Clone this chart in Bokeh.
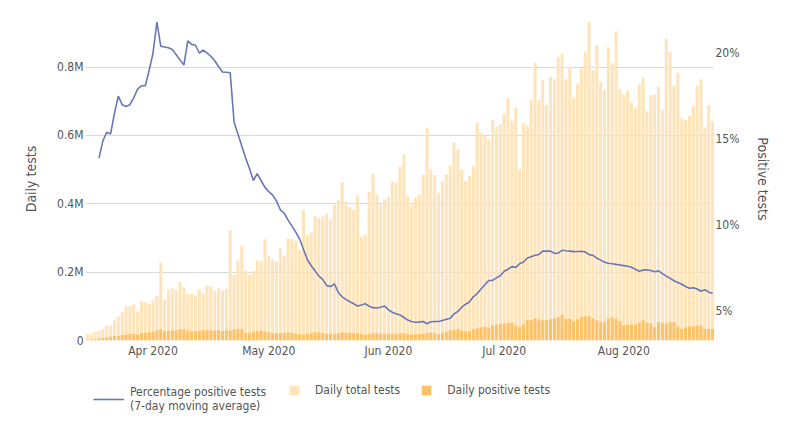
import pandas as pd
from bokeh.plotting import figure
from bokeh.layouts import column
from bokeh.models import (Range1d, LinearAxis, FixedTicker, DatetimeTickFormatter,
                          Legend, LegendItem, ColumnDataSource)
from bokeh.embed import file_html
from bokeh.resources import INLINE

# ---------------- data ----------------
start_date = "2020-03-15"

# daily total tests, millions
total_tests_m = [
    0.018, 0.018, 0.024, 0.028, 0.034, 0.044, 0.044, 0.059, 0.070, 0.083,
    0.100, 0.100, 0.105, 0.085, 0.115, 0.112, 0.107, 0.117, 0.132, 0.228,
    0.119, 0.149, 0.153, 0.147, 0.171, 0.156, 0.137, 0.137, 0.132, 0.149,
    0.137, 0.161, 0.159, 0.145, 0.153, 0.147, 0.151,
    0.322, 0.192, 0.234, 0.278, 0.205, 0.193, 0.203, 0.235, 0.232, 0.296,
    0.247, 0.237, 0.232, 0.269, 0.247, 0.298, 0.296, 0.292, 0.264, 0.381,
    0.308, 0.317, 0.364, 0.359, 0.363, 0.371, 0.355, 0.398, 0.410,
    0.462, 0.407, 0.391, 0.383, 0.425, 0.303, 0.310, 0.435, 0.488, 0.427,
    0.398, 0.413, 0.419, 0.467, 0.462, 0.508, 0.544, 0.422, 0.396, 0.418,
    0.428, 0.484, 0.623, 0.501, 0.484, 0.432, 0.467, 0.486, 0.511, 0.579, 0.560,
    0.500, 0.467, 0.481, 0.510, 0.638, 0.608, 0.599, 0.588, 0.645, 0.625,
    0.633, 0.664, 0.710, 0.642, 0.682, 0.501, 0.634, 0.628, 0.703, 0.813,
    0.703, 0.762, 0.689, 0.772, 0.764, 0.830, 0.838, 0.764, 0.801, 0.710,
    0.752, 0.796, 0.845, 0.931,
    0.791, 0.864, 0.757, 0.733, 0.858, 0.811, 0.904, 0.735, 0.720, 0.731,
    0.697, 0.682, 0.749, 0.769, 0.671, 0.718, 0.720, 0.742, 0.674, 0.882,
    0.845, 0.747, 0.783, 0.650, 0.645, 0.657, 0.687, 0.744, 0.764, 0.623,
    0.689, 0.642,
]

# daily positive tests, millions
positive_tests_m = [
    0.002, 0.003, 0.004, 0.005, 0.007, 0.009, 0.011, 0.013, 0.014, 0.016,
    0.018, 0.019, 0.019, 0.017, 0.021, 0.022, 0.024, 0.026, 0.029, 0.033,
    0.027, 0.028, 0.030, 0.029, 0.034, 0.033, 0.029, 0.027, 0.026, 0.028,
    0.030, 0.031, 0.030, 0.029, 0.030, 0.028, 0.029,
    0.029, 0.032, 0.034, 0.034, 0.022, 0.021, 0.024, 0.026, 0.029, 0.026,
    0.024, 0.021, 0.021, 0.022, 0.022, 0.024, 0.022, 0.020, 0.018, 0.017,
    0.020, 0.021, 0.024, 0.024, 0.021, 0.020, 0.020, 0.020, 0.021,
    0.024, 0.023, 0.022, 0.021, 0.020, 0.019, 0.017, 0.018, 0.021, 0.021,
    0.020, 0.019, 0.020, 0.020, 0.019, 0.021, 0.022, 0.018, 0.017, 0.018,
    0.019, 0.020, 0.022, 0.023, 0.021, 0.018, 0.022, 0.025, 0.030, 0.031, 0.033,
    0.029, 0.027, 0.026, 0.034, 0.036, 0.039, 0.040, 0.037, 0.044, 0.046,
    0.049, 0.049, 0.052, 0.052, 0.043, 0.039, 0.046, 0.059, 0.059, 0.064,
    0.062, 0.059, 0.059, 0.062, 0.064, 0.068, 0.075, 0.062, 0.064, 0.056,
    0.062, 0.068, 0.071, 0.071,
    0.064, 0.059, 0.054, 0.054, 0.064, 0.068, 0.064, 0.056, 0.044, 0.047,
    0.047, 0.047, 0.052, 0.059, 0.052, 0.049, 0.039, 0.054, 0.052, 0.049,
    0.054, 0.054, 0.041, 0.034, 0.039, 0.042, 0.041, 0.044, 0.044, 0.034,
    0.034, 0.034,
]

# percentage positive, 7-day moving average (starts 3 days after first bar)
pct_start_offset = 3
pct_positive_7d = [
    13.9, 14.9, 15.4, 15.3, 16.5, 17.5, 17.0, 16.9, 17.0, 17.4,
    17.9, 18.1, 18.1, 19.0, 20.0, 21.8, 20.4, 20.35, 20.3, 20.2,
    19.9, 19.6, 19.3, 20.7, 20.5, 20.45, 20.0, 20.17, 20.0, 19.8,
    19.55, 19.2, 18.9, 18.88, 18.85, 16.0, 15.3, 14.6, 13.9, 13.3,
    12.6, 13.0, 12.6, 12.2, 11.95, 11.75, 11.4, 10.9, 10.7, 10.3,
    9.95, 9.6, 9.2, 8.6, 8.0, 7.65, 7.35, 7.05, 6.85, 6.5,
    6.45, 6.6, 6.1, 5.85, 5.7, 5.56, 5.45, 5.32, 5.38, 5.45,
    5.3, 5.22, 5.2, 5.24, 5.31, 5.1, 4.95, 4.87, 4.8, 4.65,
    4.5, 4.42, 4.37, 4.38, 4.42, 4.29, 4.4, 4.42, 4.42, 4.48,
    4.55, 4.6, 4.85, 5.0, 5.25, 5.42, 5.55, 5.85, 6.03, 6.3,
    6.55, 6.8, 6.8, 6.95, 7.07, 7.33, 7.45, 7.6, 7.56, 7.77,
    7.87, 8.1, 8.18, 8.26, 8.31, 8.5, 8.51, 8.5, 8.37, 8.39,
    8.55, 8.52, 8.5, 8.47, 8.48, 8.49, 8.45, 8.3, 8.26, 8.1,
    7.98, 7.86, 7.8, 7.77, 7.73, 7.7, 7.66, 7.62, 7.56, 7.45,
    7.33, 7.4, 7.42, 7.38, 7.3, 7.36, 7.2, 7.05, 6.92, 6.78,
    6.68, 6.58, 6.45, 6.35, 6.37, 6.3, 6.17, 6.26, 6.12, 6.05,
]

month_ticks = ["2020-04-01", "2020-05-01", "2020-06-01", "2020-07-01", "2020-08-01"]
left_ticks = [0, 0.2, 0.4, 0.6, 0.8]
left_labels = ["0", "0.2M", "0.4M", "0.6M", "0.8M"]
right_ticks = [5, 10, 15, 20]
right_labels = ["5%", "10%", "15%", "20%"]

# ---------------- styling ----------------
FONT = "DejaVu Sans Condensed"
TEXT = "#555555"
LIGHT = "#ffe3b9"
DARK = "#ffc166"
LINE = "#6878b6"

dates = pd.date_range(start_date, periods=len(total_tests_m), freq="D")
pct_dates = dates[pct_start_offset:pct_start_offset + len(pct_positive_7d)]
half_day = pd.Timedelta(hours=12)
day_ms = 24 * 3600 * 1000

bars = ColumnDataSource(dict(date=dates, total=total_tests_m, pos=positive_tests_m))
line_src = ColumnDataSource(dict(date=pct_dates, pct=pct_positive_7d))

p = figure(width=791, height=368, x_axis_type="datetime",
           x_range=Range1d(dates[0] - half_day, dates[-1] + half_day),
           y_range=Range1d(0, 0.945),
           output_backend="svg", toolbar_location=None,
           min_border_left=85, min_border_right=77, min_border_top=17, min_border_bottom=28)
p.extra_y_ranges = {"pct": Range1d(3.314, 22.06)}
p.outline_line_color = None
p.background_fill_color = "white"
p.border_fill_color = "white"

total_r = p.vbar(x="date", top="total", width=0.78 * day_ms, source=bars,
                 fill_color=LIGHT, line_color=None)
pos_r = p.vbar(x="date", top="pos", width=0.78 * day_ms, source=bars,
               fill_color=DARK, line_color=None)
line_r = p.line(x="date", y="pct", source=line_src, y_range_name="pct",
                line_color=LINE, line_width=1.6)

# x axis
xa = p.xaxis[0]
xa.ticker = FixedTicker(ticks=[pd.Timestamp(d).value // 10**6 for d in month_ticks])
fmt = "%b %Y"
xa.formatter = DatetimeTickFormatter(years=fmt, months=fmt, days=fmt, hours=fmt,
                                     minutes=fmt, seconds=fmt, milliseconds=fmt,
                                     minsec=fmt, hourmin=fmt, microseconds=fmt)
# left axis
ya = p.yaxis[0]
ya.ticker = FixedTicker(ticks=left_ticks)
ya.major_label_overrides = {t: l for t, l in zip(left_ticks, left_labels)}
ya.axis_label = "Daily tests"

# right axis
ra = LinearAxis(y_range_name="pct", axis_label="Positive tests",
                ticker=FixedTicker(ticks=right_ticks))
ra.major_label_overrides = {t: l for t, l in zip(right_ticks, right_labels)}
p.add_layout(ra, "right")

for ax in (xa, ya, ra):
    ax.axis_line_color = None
    ax.major_tick_line_color = None
    ax.minor_tick_line_color = None
    ax.major_tick_out = 0
    ax.major_tick_in = 0
    ax.minor_tick_out = 0
    ax.major_label_text_font = FONT
    ax.major_label_text_font_size = "12px"
    ax.major_label_text_color = TEXT
    ax.axis_label_text_font = FONT
    ax.axis_label_text_font_size = "14px"
    ax.axis_label_text_font_style = "normal"
    ax.axis_label_text_color = TEXT
xa.major_label_standoff = 3
ya.major_label_standoff = 2
ra.major_label_standoff = 1
ya.axis_label_standoff = 15
ra.axis_label_standoff = 13

p.xgrid.grid_line_color = None
p.ygrid.grid_line_color = "#d9d9d9"
p.ygrid.grid_line_width = 1
p.ygrid.ticker = FixedTicker(ticks=[0.2, 0.4, 0.6, 0.8])

# ---------------- legend strip (separate figure below the chart) ----------------
lf = figure(width=791, height=70, output_backend="svg", toolbar_location=None,
            x_axis_location=None, y_axis_location=None, min_border=0,
            x_range=Range1d(0, 1), y_range=Range1d(0, 1))
lf.outline_line_color = None
lf.xgrid.grid_line_color = None
lf.ygrid.grid_line_color = None
# hidden copies of the series: they only provide the legend swatches
lg_line = lf.line(x="date", y="pct", source=line_src, line_color=LINE, line_width=1.6,
                  visible=False)
lg_total = lf.vbar(x="date", top="total", width=0.78 * day_ms, source=bars,
                   fill_color=LIGHT, line_color=None, visible=False)
lg_pos = lf.vbar(x="date", top="pos", width=0.78 * day_ms, source=bars,
                 fill_color=DARK, line_color=None, visible=False)

common = dict(border_line_color=None, background_fill_alpha=0, padding=0, margin=0,
              label_text_font=FONT, label_text_font_size="12px", label_text_color=TEXT,
              orientation="horizontal")
leg1 = Legend(items=[LegendItem(label="Percentage positive tests\n(7-day moving average)",
                                renderers=[lg_line])],
              location=(8, 25), glyph_width=31, glyph_height=14, label_standoff=6,
              **common)
leg2 = Legend(items=[LegendItem(label="Daily total tests", renderers=[lg_total]),
                     LegendItem(label="Daily positive tests", renderers=[lg_pos])],
              location=(203, 41), glyph_width=12, glyph_height=12, label_standoff=15,
              spacing=20, label_height=12, **common)
lf.add_layout(leg1, "center")
lf.add_layout(leg2, "center")

layout = column(p, lf, spacing=0)
open("out.html", "w").write(file_html(layout, INLINE))
